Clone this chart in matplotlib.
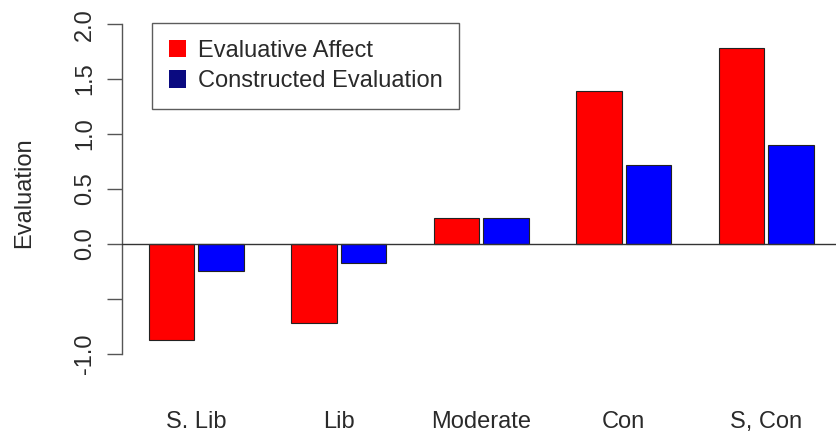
"""
Grouped bar chart: evaluative affect vs constructed evaluation by ideology.
"""

import matplotlib
matplotlib.use("Agg")
import matplotlib.pyplot as plt
from matplotlib.patches import Patch

# ---------------------------------------------------------------------------
# Data
# ---------------------------------------------------------------------------
groups = ["S. Lib", "Lib", "Moderate", "Con", "S, Con"]
affect = [-0.87, -0.72, 0.24, 1.39, 1.78]
constructed = [-0.25, -0.17, 0.24, 0.72, 0.90]
series_names = ["Evaluative Affect", "Constructed Evaluation"]
ytick_values = [-1.0, -0.5, 0.0, 0.5, 1.0, 1.5, 2.0]
ytick_labels = ["-1.0", "", "0.0", "0.5", "1.0", "1.5", "2.0"]

plt.rcParams["font.family"] = ["Liberation Sans", "DejaVu Sans"]
FS = 17
TEXT = "#2a2a2a"

W, H = 836, 436
fig = plt.figure(figsize=(W / 100, H / 100), dpi=100)
ax = fig.add_axes([122 / W, (H - 367) / H, (W - 122) / W, (367 - 11) / H])

# R-style bar layout: red bar at 1 + 3i, blue bar right next to it
n = len(groups)
red_x = [1 + 3 * i for i in range(n)]
blue_x = [2.04 + 3 * i for i in range(n)]
centers = [2 + 3 * i for i in range(n)]

ax.bar(red_x, affect, width=0.96, align="edge", color="#ff0000",
       edgecolor="#222222", linewidth=0.8, zorder=2)
ax.bar(blue_x, constructed, width=0.96, align="edge", color="#0000ff",
       edgecolor="#222222", linewidth=0.8, zorder=2)
ax.axhline(0, color="#333333", linewidth=1.0, zorder=3)

ax.set_xlim(0.44, 0.44 + (W - 122) / 47.5)
ax.set_ylim(-1.12, 2.12)

# ---- axes styling ---------------------------------------------------------
for side in ["top", "right", "bottom"]:
    ax.spines[side].set_visible(False)
ax.spines["left"].set_bounds(-1.0, 2.0)
ax.spines["left"].set_color("#555555")
ax.spines["left"].set_linewidth(1.0)

ax.set_yticks(ytick_values)
ax.set_yticklabels(ytick_labels, rotation=90, va="center", fontsize=FS, color=TEXT)
ax.tick_params(axis="y", length=10.8, width=1.0, color="#555555", pad=8)

ax.set_xticks(centers)
ax.set_xticklabels(groups, fontsize=FS, color=TEXT)
ax.tick_params(axis="x", length=0, pad=32)

ax.set_ylabel("Evaluation", fontsize=FS, color=TEXT)
ax.yaxis.set_label_coords((35 - 122) / (W - 122), 0.49)

# ---- legend ---------------------------------------------------------------
handles = [Patch(facecolor="#ff0000", edgecolor="none"),
           Patch(facecolor="#0a0a80", edgecolor="none")]
leg = fig.legend(handles, series_names, loc="upper left",
                 bbox_to_anchor=(152 / W, 1 - 23 / H), bbox_transform=fig.transFigure,
                 fontsize=FS, frameon=True, fancybox=False, borderaxespad=0,
                 handlelength=0.75, handleheight=0.75, handletextpad=0.5,
                 labelspacing=0.37, borderpad=0.7)
leg.get_frame().set_edgecolor("#333333")
leg.get_frame().set_linewidth(1.0)
for t in leg.get_texts():
    t.set_color(TEXT)

fig.savefig("out.png", dpi=100)
